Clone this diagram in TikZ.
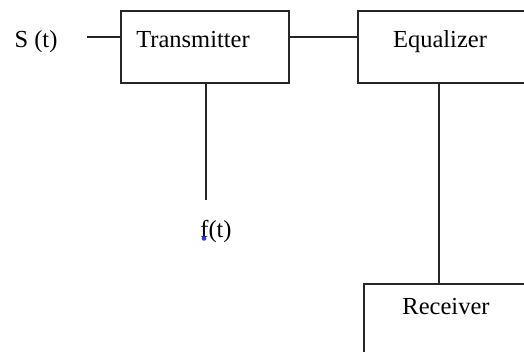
\documentclass[tikz,border=0pt]{standalone}
\usepackage{fontspec}
\setmainfont{Liberation Serif}
\begin{document}
\begin{tikzpicture}[x=1pt,y=-1pt,
  blockbox/.style={draw=black!85,line width=1.6pt,rectangle,inner sep=0pt,anchor=north west},
  conn/.style={draw=black!85,line width=1.6pt},
  lbl/.style={inner sep=0pt,anchor=base,font=\fontsize{24.5}{28}\selectfont}]
\useasboundingbox (0,0) rectangle (524,351);
\clip (0,0) rectangle (524,351);
% boxes
\node[blockbox,minimum width=168pt,minimum height=72pt] (tx) at (120,10) {};
\node[blockbox,minimum width=190pt,minimum height=72pt] (eq) at (357,10) {};
\node[blockbox,minimum width=200pt,minimum height=110pt] (rx) at (363,283) {};
% texts
\node[lbl] (st) at (36,47) {S (t)};
\node[lbl] (txt) at (193,47) {Transmitter};
\node[lbl] (eqt) at (440,47) {Equalizer};
\node[lbl] (ft) at (216,237) {f(t)};
\node[lbl] (rxt) at (446,314) {Receiver};
\fill[blue!80] (204,238.5) circle (2.3pt);
% connector coordinates
\coordinate (sin) at (87,37);
\coordinate (txdown) at (206,200);
\coordinate (eqx) at (439,0);
% connectors
\draw[conn] (sin) -- (sin -| tx.west);
\draw[conn] (tx.east |- sin) -- (eq.west |- sin);
\draw[conn] (txdown |- tx.south) -- (txdown);
\draw[conn] (eqx |- eq.south) -- (eqx |- rx.north);
\end{tikzpicture}
\end{document}
